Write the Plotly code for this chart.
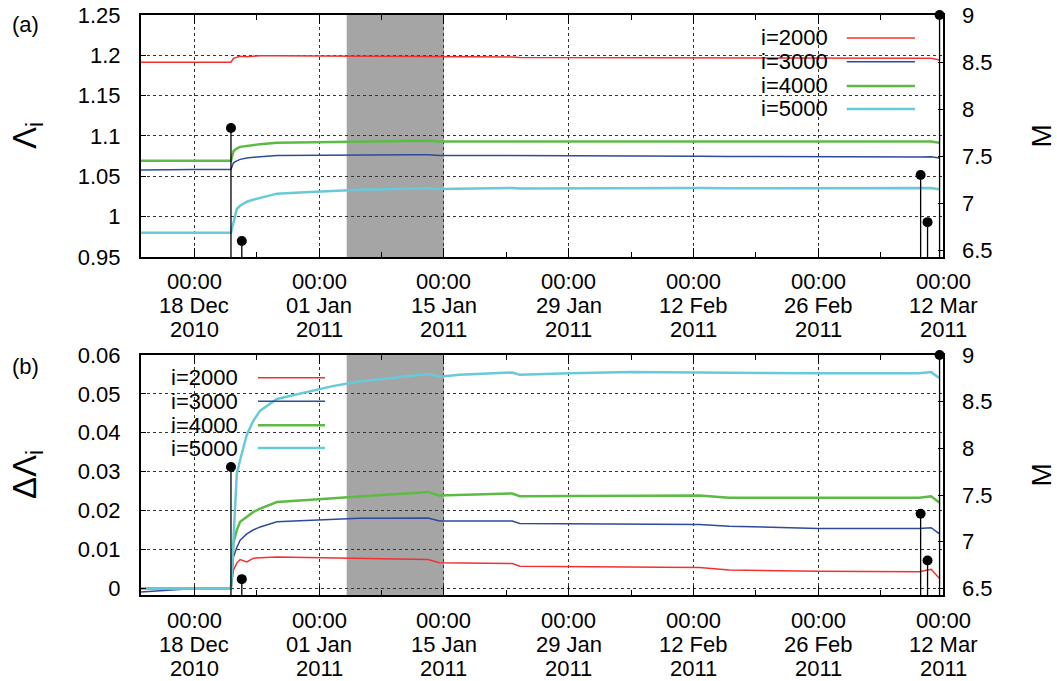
import plotly.graph_objects as go
from plotly.subplots import make_subplots

# ---------------- data ----------------
times = [
    "2010-12-12 00:00", "2010-12-15 08:00", "2010-12-18 00:00", "2010-12-22 02:19",
    "2010-12-22 09:00", "2010-12-22 18:00", "2010-12-23 03:00", "2010-12-23 21:00",
    "2010-12-24 14:00", "2010-12-25 09:00", "2010-12-27 06:00", "2010-12-29 20:00",
    "2011-01-02 12:00", "2011-01-05 12:00", "2011-01-08 10:00", "2011-01-11 16:00",
    "2011-01-13 05:00", "2011-01-14 12:00", "2011-01-16 17:00", "2011-01-22 16:00",
    "2011-01-23 12:00", "2011-01-29 02:00", "2011-02-05 00:00", "2011-02-12 16:00",
    "2011-02-16 00:00", "2011-02-26 00:00", "2011-03-09 08:00", "2011-03-10 16:00",
    "2011-03-11 14:00",
]

# panel (a): Lambda_i
lam_2000 = [1.1915, 1.1915, 1.1915, 1.1915, 1.1962, 1.1980, 1.1989, 1.1983, 1.1992, 1.1994,
            1.1996, 1.1995, 1.1994, 1.1992, 1.1992, 1.1990, 1.1989, 1.1981, 1.1980, 1.1979,
            1.1972, 1.1971, 1.1969, 1.1969, 1.1962, 1.1959, 1.1958, 1.1964, 1.1941]
lam_3000 = [1.0577, 1.0583, 1.0586, 1.0586, 1.0667, 1.0691, 1.0710, 1.0726, 1.0736, 1.0744,
            1.0757, 1.0760, 1.0763, 1.0766, 1.0766, 1.0767, 1.0767, 1.0759, 1.0759, 1.0759,
            1.0753, 1.0752, 1.0751, 1.0750, 1.0746, 1.0740, 1.0740, 1.0742, 1.0727]
lam_4000 = [1.0694, 1.0694, 1.0694, 1.0694, 1.0810, 1.0844, 1.0865, 1.0879, 1.0890, 1.0899,
            1.0916, 1.0920, 1.0926, 1.0932, 1.0935, 1.0939, 1.0942, 1.0933, 1.0934, 1.0938,
            1.0931, 1.0932, 1.0933, 1.0933, 1.0927, 1.0927, 1.0927, 1.0931, 1.0915]
lam_5000 = [0.9800, 0.9800, 0.9800, 0.9800, 0.9924, 1.0095, 1.0135, 1.0185, 1.0210, 1.0235,
            1.0285, 1.0300, 1.0320, 1.0332, 1.0340, 1.0347, 1.0351, 1.0344, 1.0349, 1.0355,
            1.0349, 1.0353, 1.0356, 1.0355, 1.0353, 1.0353, 1.0353, 1.0356, 1.0341]

# panel (b): Delta Lambda_i
dlam_2000 = [0.0, 0.0, 0.0, 0.0, 0.0047, 0.0065, 0.0074, 0.0068, 0.0077, 0.0079,
             0.0081, 0.0080, 0.0079, 0.0077, 0.0077, 0.0075, 0.0074, 0.0066, 0.0065, 0.0064,
             0.0057, 0.0056, 0.0054, 0.0054, 0.0047, 0.0044, 0.0043, 0.0049, 0.0026]
dlam_3000 = [-0.0009, -0.0003, 0.0, 0.0, 0.0081, 0.0105, 0.0124, 0.0140, 0.0150, 0.0158,
             0.0171, 0.0174, 0.0177, 0.0180, 0.0180, 0.0181, 0.0181, 0.0173, 0.0173, 0.0173,
             0.0167, 0.0166, 0.0165, 0.0164, 0.0160, 0.0154, 0.0154, 0.0156, 0.0141]
dlam_4000 = [0.0, 0.0, 0.0, 0.0, 0.0116, 0.0150, 0.0171, 0.0185, 0.0196, 0.0205,
             0.0222, 0.0226, 0.0232, 0.0238, 0.0241, 0.0245, 0.0248, 0.0239, 0.0240, 0.0244,
             0.0237, 0.0238, 0.0239, 0.0239, 0.0233, 0.0233, 0.0233, 0.0237, 0.0221]
dlam_5000 = [0.0, 0.0, 0.0, 0.0, 0.0124, 0.0295, 0.0330, 0.0395, 0.0430, 0.0457,
             0.0487, 0.0500, 0.0520, 0.0532, 0.0540, 0.0547, 0.0551, 0.0544, 0.0549, 0.0555,
             0.0549, 0.0553, 0.0556, 0.0555, 0.0553, 0.0553, 0.0553, 0.0556, 0.0541]

# earthquakes (right axis, M)
quake_times = ["2010-12-22 02:19", "2010-12-23 07:30", "2011-03-09 11:45",
               "2011-03-10 06:24", "2011-03-11 14:46"]
quake_mags = [7.8, 6.6, 7.3, 6.8, 9.0]

series_names = ["i=2000", "i=3000", "i=4000", "i=5000"]
series_colors = ["#f03232", "#2d4b9b", "#5dba45", "#67c9d9"]
series_widths = [1.5, 1.5, 2.5, 2.5]

shade_period = ["2011-01-04 02:00", "2011-01-15 00:00"]

x_range = ["2010-12-12 00:00", "2011-03-12 00:00"]
x_tick_vals = ["2010-12-18", "2011-01-01", "2011-01-15", "2011-01-29",
               "2011-02-12", "2011-02-26", "2011-03-12"]
x_tick_time = ["00:00"] * 7
x_tick_day = ["18 Dec", "01 Jan", "15 Jan", "29 Jan", "12 Feb", "26 Feb", "12 Mar"]
x_tick_year = ["2010", "2011", "2011", "2011", "2011", "2011", "2011"]
x_minor_vals = ["2010-12-25", "2011-01-08", "2011-01-22", "2011-02-05",
                "2011-02-19", "2011-03-05"]

ya_vals = [0.95, 1.0, 1.05, 1.1, 1.15, 1.2, 1.25]
ya_text = ["0.95", "1", "1.05", "1.1", "1.15", "1.2", "1.25"]
yb_vals = [0.0, 0.01, 0.02, 0.03, 0.04, 0.05, 0.06]
yb_text = ["0", "0.01", "0.02", "0.03", "0.04", "0.05", "0.06"]
m_vals = [6.5, 7.0, 7.5, 8.0, 8.5, 9.0]
m_text = ["6.5", "7", "7.5", "8", "8.5", "9"]

FONT = "Liberation Sans, Arial, sans-serif"
TICK_SIZE = 22

# ---------------- figure ----------------
fig = make_subplots(rows=2, cols=1,
                    specs=[[{"secondary_y": True}], [{"secondary_y": True}]])

panel_a = [lam_2000, lam_3000, lam_4000, lam_5000]
panel_b = [dlam_2000, dlam_3000, dlam_4000, dlam_5000]

stem_x, stem_y = [], []
for t, m in zip(quake_times, quake_mags):
    stem_x += [t, t, None]
    stem_y += [0, m, None]

for row, data in ((1, panel_a), (2, panel_b)):
    for name, ys, col, w in zip(series_names, data, series_colors, series_widths):
        fig.add_trace(go.Scatter(x=times, y=ys, mode="lines", name=name,
                                 line=dict(color=col, width=w), showlegend=False),
                      row=row, col=1, secondary_y=False)
    fig.add_trace(go.Scatter(x=stem_x, y=stem_y, mode="lines",
                             line=dict(color="black", width=1.3), showlegend=False),
                  row=row, col=1, secondary_y=True)
    fig.add_trace(go.Scatter(x=quake_times, y=quake_mags, mode="markers",
                             marker=dict(color="black", size=10), cliponaxis=False,
                             showlegend=False),
                  row=row, col=1, secondary_y=True)

# axes
xcommon = dict(type="date", range=x_range, tickmode="array", tickvals=x_tick_vals,
               showticklabels=False, ticks="inside", ticklen=9, tickwidth=1.2,
               tickcolor="black", showline=True, linecolor="black", linewidth=2,
               mirror="ticks", showgrid=True, gridcolor="#333", griddash="dot",
               gridwidth=1, automargin=False, domain=[0.0, 1.0],
               minor=dict(tickmode="array", tickvals=x_minor_vals, ticks="inside",
                          ticklen=5, tickwidth=1.2, tickcolor="black", showgrid=False),
               zeroline=False)
fig.update_xaxes(**xcommon)

fig.update_yaxes(row=1, col=1, secondary_y=False, range=[0.95, 1.25],
                 tickmode="array", tickvals=ya_vals, ticktext=ya_text)
fig.update_yaxes(row=2, col=1, secondary_y=False, range=[-0.0017, 0.06],
                 tickmode="array", tickvals=yb_vals, ticktext=yb_text)
fig.update_yaxes(secondary_y=False, ticks="inside", ticklen=5, tickcolor="black",
                 showline=True, linecolor="black", linewidth=2, mirror=True,
                 showgrid=True, gridcolor="#333", griddash="dot", gridwidth=1,
                 zeroline=False, ticklabelstandoff=14, automargin=False,
                 tickfont=dict(family=FONT, size=TICK_SIZE, color="black"))
fig.update_yaxes(secondary_y=True, range=[6.43, 9], tickmode="array", tickvals=m_vals,
                 ticktext=m_text, ticks="inside", ticklen=5, tickcolor="black",
                 showgrid=False, showline=False, zeroline=False, ticklabelstandoff=18,
                 automargin=False,
                 tickfont=dict(family=FONT, size=TICK_SIZE, color="black"))

# domains (pixel-matched)
fig.update_layout(
    yaxis=dict(domain=[0.5828, 1.0]), yaxis2=dict(domain=[0.5828, 1.0]),
    yaxis3=dict(domain=[0.0, 0.4138]), yaxis4=dict(domain=[0.0, 0.4138]),
)

# shaded interval
for xr, yr in (("x", "y domain"), ("x2", "y3 domain")):
    fig.add_shape(type="rect", xref=xr, yref=yr, x0=shade_period[0], x1=shade_period[1],
                  y0=0, y1=1, fillcolor="#a5a5a5", line=dict(width=0), layer="below")

annotations = []
tick_font = dict(family=FONT, size=TICK_SIZE, color="black")
# x tick labels: three lines per tick, tight gnuplot-like spacing
for xr, yr in (("x", "y domain"), ("x2", "y3 domain")):
    for xv, t1, t2, t3 in zip(x_tick_vals, x_tick_time, x_tick_day, x_tick_year):
        for txt, shift in ((t1, -25), (t2, -49), (t3, -73)):
            annotations.append(dict(text=txt, xref=xr, yref=yr, x=xv, y=0, yshift=shift,
                                    xanchor="center", yanchor="middle", showarrow=False,
                                    font=tick_font))

# panel letters
annotations.append(dict(text="(a)", xref="paper", yref="paper", x=-0.1434, y=1.008,
                        xanchor="center", yanchor="top", showarrow=False,
                        font=dict(family=FONT, size=22, color="black")))
annotations.append(dict(text="(b)", xref="paper", yref="paper", x=-0.1434, y=0.4195,
                        xanchor="center", yanchor="top", showarrow=False,
                        font=dict(family=FONT, size=22, color="black")))
# axis titles
for xd, ydom, ttl in (("x domain", "y domain", "Λ<sub>i</sub>"),
                      ("x2 domain", "y3 domain", "ΔΛ<sub>i</sub>")):
    annotations.append(dict(text=ttl, xref=xd, yref=ydom, x=-0.142, y=0.5, textangle=-90,
                            xanchor="center", yanchor="middle", showarrow=False,
                            font=dict(family=FONT, size=33, color="black")))
    annotations.append(dict(text="M", xref=xd, yref=ydom, x=1.124, y=0.5, textangle=-90,
                            xanchor="center", yanchor="middle", showarrow=False,
                            font=dict(family=FONT, size=28, color="black")))

# manual key (text followed by line sample, as in the original)
key_rows = [0.905, 0.807, 0.707, 0.612]
key_layout = [("x domain", "y domain", 0.859, 0.880, 0.965),
              ("x2 domain", "y3 domain", 0.1234, 0.1459, 0.2294)]
for xd, yd, tx, l0, l1 in key_layout:
    for name, col, w, yy in zip(series_names, series_colors, series_widths, key_rows):
        annotations.append(dict(text=name, xref=xd, yref=yd, x=tx, y=yy, xanchor="right",
                                yanchor="middle", showarrow=False,
                                font=dict(family=FONT, size=22, color="black")))
        fig.add_shape(type="line", xref=xd, yref=yd, x0=l0, x1=l1, y0=yy, y1=yy,
                      line=dict(color=col, width=w))

fig.update_layout(
    width=1057, height=681,
    margin=dict(l=141, r=114, t=15, b=86, autoexpand=False),
    plot_bgcolor="white", paper_bgcolor="white",
    annotations=annotations, showlegend=False,
    font=dict(family=FONT, color="black"),
)

fig.write_html("out.html", config={"displayModeBar": False},
               post_script="document.body.style.margin='0';"
                           "document.body.style.overflow='hidden';")
